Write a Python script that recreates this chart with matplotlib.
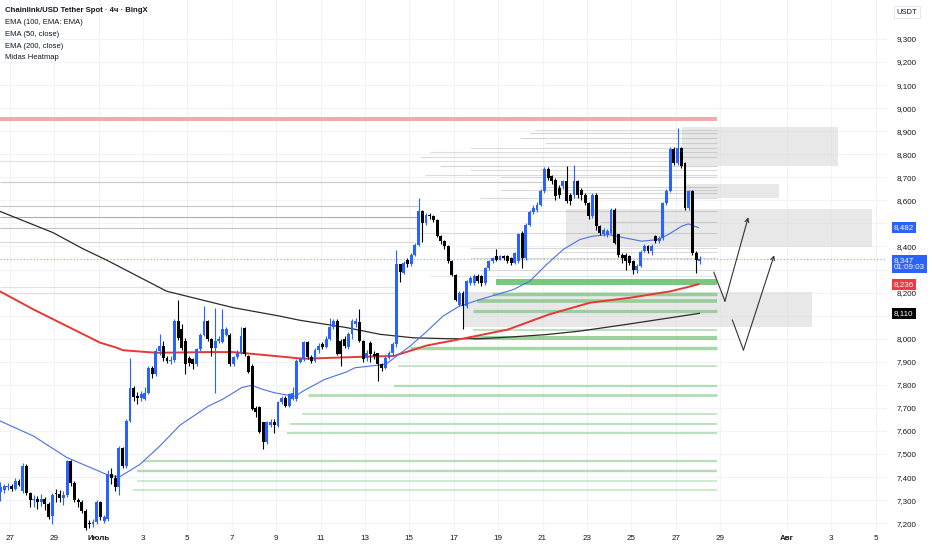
import matplotlib
matplotlib.use("Agg")
import matplotlib.pyplot as plt
from matplotlib.patches import Rectangle
from matplotlib import font_manager

# ------------------------------------------------------------------ data
# 4h candles (index 0 = first visible candle, Jun 26)
opens = [7335, 7345, 7358, 7362, 7350, 7384, 7340, 7450, 7330, 7300,
         7306, 7292, 7304, 7283, 7230, 7332, 7326, 7310, 7322, 7470,
         7376, 7300, 7290, 7254, 7200, 7196, 7203, 7290, 7210, 7218,
         7413, 7395, 7356, 7524, 7449, 7643, 7788, 7750, 7745, 7740,
         7766, 7875, 7846, 7946, 7968, 7918, 7903, 7907, 8076, 8040,
         7990, 7918, 7910, 7889, 7954, 8018, 8076, 7997, 7960, 7990,
         7985, 8018, 8018, 7889, 7920, 7940, 8047, 7925, 7882, 7700,
         7702, 7637, 7550, 7625, 7640, 7620, 7724, 7745, 7710, 7740,
         7737, 7900, 7912, 7984, 7920, 7905, 7950, 7975, 7965, 8000,
         8050, 8076, 7990, 8000, 7965, 8020, 8065, 8071, 7990, 7918,
         7980, 7935, 7936, 7889, 7875, 7918, 7939, 7975, 8322, 8286,
         8343, 8322, 8365, 8408, 8552, 8502, 8538, 8531, 8516, 8444,
         8423, 8401, 8336, 8278, 8148, 8199, 8141, 8242, 8242, 8271,
         8271, 8242, 8307, 8336, 8357, 8343, 8360, 8357, 8350, 8329,
         8336, 8459, 8350, 8495, 8550, 8560, 8581, 8639, 8736, 8704,
         8690, 8654, 8661, 8682, 8625, 8625, 8682, 8646, 8625, 8589,
         8531, 8625, 8488, 8452, 8452, 8459, 8560, 8452, 8365, 8365,
         8358, 8336, 8300, 8314, 8380, 8401, 8380, 8444, 8423, 8437,
         8590, 8640, 8822, 8762, 8827, 8762, 8567, 8639, 8372, 8336]
highs = [7380, 7372, 7375, 7370, 7395, 7392, 7462, 7458, 7335, 7320,
         7318, 7325, 7312, 7290, 7330, 7350, 7345, 7340, 7475, 7472,
         7385, 7310, 7300, 7260, 7215, 7220, 7300, 7295, 7235, 7430,
         7440, 7410, 7535, 7530, 7650, 7915, 7795, 7770, 7775, 7790,
         7880, 7880, 7960, 8020, 7990, 7925, 7925, 8085, 8170, 8065,
         8004, 7925, 7918, 7960, 8025, 8141, 8080, 8005, 8134, 8010,
         8130, 8050, 8025, 7925, 7950, 8050, 8050, 7930, 7890, 7710,
         7710, 7640, 7645, 7650, 7650, 7730, 7752, 7750, 7765, 7790,
         7910, 7920, 7990, 7990, 7930, 7960, 7980, 7985, 8010, 8090,
         8085, 8085, 8000, 8010, 8030, 8085, 8090, 8127, 7995, 7950,
         7990, 7945, 7940, 7895, 7925, 7945, 7985, 8385, 8325, 8335,
         8350, 8370, 8415, 8610, 8558, 8545, 8545, 8535, 8520, 8450,
         8430, 8405, 8340, 8280, 8205, 8205, 8255, 8270, 8280, 8280,
         8275, 8310, 8340, 8355, 8387, 8365, 8365, 8362, 8355, 8378,
         8458, 8465, 8500, 8560, 8580, 8595, 8650, 8745, 8745, 8710,
         8695, 8665, 8690, 8748, 8630, 8755, 8690, 8655, 8630, 8595,
         8630, 8630, 8495, 8480, 8475, 8565, 8565, 8455, 8370, 8372,
         8365, 8340, 8325, 8385, 8410, 8405, 8410, 8450, 8445, 8595,
         8650, 8830, 8830, 8913, 8832, 8765, 8645, 8645, 8380, 8360]
lows = [7295, 7330, 7345, 7340, 7345, 7360, 7330, 7320, 7270, 7270,
        7262, 7275, 7258, 7220, 7195, 7290, 7290, 7280, 7315, 7360,
        7290, 7270, 7245, 7170, 7180, 7185, 7195, 7215, 7200, 7210,
        7370, 7340, 7320, 7440, 7440, 7640, 7730, 7715, 7730, 7735,
        7760, 7830, 7840, 7930, 7905, 7895, 7890, 7900, 7995, 7950,
        7846, 7880, 7870, 7880, 7945, 8010, 7990, 7925, 7766, 7980,
        7980, 8010, 7880, 7880, 7910, 7935, 7925, 7850, 7690, 7660,
        7590, 7522, 7545, 7615, 7590, 7615, 7718, 7705, 7705, 7735,
        7730, 7895, 7905, 7910, 7895, 7900, 7940, 7955, 7960, 7995,
        8040, 7930, 7880, 7960, 7955, 8000, 8050, 7985, 7900, 7905,
        7900, 7910, 7815, 7860, 7870, 7910, 7930, 7965, 8248, 8280,
        8310, 8315, 8360, 8400, 8420, 8495, 8520, 8505, 8440, 8410,
        8390, 8330, 8270, 8165, 8140, 8040, 8135, 8235, 8235, 8240,
        8230, 8235, 8300, 8330, 8335, 8340, 8340, 8330, 8320, 8325,
        8330, 8307, 8340, 8490, 8540, 8550, 8575, 8630, 8690, 8670,
        8600, 8610, 8650, 8590, 8580, 8610, 8610, 8600, 8580, 8520,
        8525, 8470, 8450, 8445, 8440, 8455, 8410, 8355, 8330, 8300,
        8320, 8280, 8286, 8310, 8375, 8370, 8365, 8415, 8415, 8430,
        8580, 8635, 8755, 8755, 8740, 8560, 8560, 8365, 8286, 8325]
closes = [7356, 7360, 7362, 7350, 7384, 7365, 7450, 7330, 7300, 7306,
          7292, 7304, 7283, 7228, 7320, 7326, 7310, 7322, 7470, 7376,
          7300, 7290, 7254, 7180, 7196, 7203, 7290, 7225, 7225, 7413,
          7395, 7356, 7524, 7449, 7643, 7788, 7748, 7745, 7760, 7766,
          7875, 7846, 7946, 7968, 7918, 7903, 7907, 8076, 8004, 7961,
          7889, 7895, 7889, 7954, 8018, 8076, 7997, 7960, 7990, 8000,
          8040, 8040, 7889, 7920, 7940, 8010, 7932, 7856, 7694, 7680,
          7594, 7550, 7637, 7637, 7625, 7724, 7745, 7710, 7760, 7765,
          7903, 7912, 7984, 7920, 7905, 7950, 7970, 7965, 8000, 8050,
          8076, 7935, 7935, 7970, 8020, 8076, 8075, 7990, 7910, 7939,
          7932, 7925, 7889, 7875, 7918, 7939, 7975, 8322, 8290, 8329,
          8322, 8365, 8408, 8552, 8502, 8538, 8531, 8516, 8444, 8423,
          8401, 8336, 8278, 8170, 8199, 8141, 8249, 8264, 8271, 8250,
          8242, 8307, 8336, 8350, 8343, 8360, 8350, 8336, 8329, 8372,
          8452, 8350, 8495, 8550, 8565, 8581, 8639, 8736, 8697, 8682,
          8617, 8625, 8682, 8596, 8596, 8682, 8625, 8625, 8589, 8531,
          8625, 8488, 8459, 8473, 8465, 8560, 8416, 8365, 8351, 8336,
          8329, 8300, 8314, 8378, 8401, 8380, 8401, 8423, 8437, 8590,
          8640, 8822, 8762, 8827, 8748, 8567, 8639, 8372, 8343, 8347]

# EMA curves (candle index, price)
ema50_x = [-0.1, 8.9, 17.9, 29.6, 32.3, 37.7, 43.1, 48.5, 56.2, 60, 65.2, 67.9,
           70.9, 74.2, 79.6, 82, 87.7, 93.4, 95.8, 104.1, 107.1, 110.7, 115.1,
           119.6, 123.9, 129.6, 138.6, 143.1, 147.6, 152.1, 156.6, 159.8, 164.3,
           168.8, 173.3, 177.8, 180.5, 184.1, 185.9, 188.6]
ema50_y = [7643, 7578, 7485, 7405, 7402, 7455, 7535, 7625, 7708, 7737, 7788, 7798,
           7780, 7765, 7750, 7775, 7824, 7855, 7874, 7889, 7925, 7968, 8030,
           8098, 8140, 8170, 8213, 8250, 8322, 8387, 8430, 8444, 8452,
           8437, 8423, 8430, 8452, 8488, 8498, 8482]
ema100_x = [-0.1, 8.9, 17.9, 26.9, 31.4, 33.1, 42.2, 56.1, 62.8, 74.2, 81.9, 98.5,
            106.3, 115.1, 126.1, 137.2, 148.2, 159.3, 170.3, 181.2, 185, 188.6]
ema100_y = [8205, 8127, 8055, 7983, 7961, 7950, 7939, 7942, 7942, 7925, 7913, 7922,
            7925, 7970, 8004, 8040, 8105, 8156, 8178, 8206, 8221, 8236]
ema200_x = [-0.1, 14.2, 22.3, 28.8, 44.9, 62.8, 75.5, 80.9, 93.6, 102.6, 111.5,
            120.7, 129.6, 138.5, 147.6, 156.6, 169.2, 188.9]
ema200_y = [8552, 8460, 8390, 8340, 8206, 8135, 8098, 8080, 8048, 8019, 8004,
            8000, 8000, 8008, 8018, 8033, 8062, 8110]

# Midas heatmap: support (green) levels
green_price = [8248, 8195, 8162, 8122, 8038, 8002, 7961, 7880, 7795, 7754,
               7672, 7629, 7590, 7470, 7425, 7385, 7345]
green_start = [133.9, 132.8, 128.9, 127.7, 127.7, 127.7, 110.7, 107.4, 106.3, 83.1,
               81.5, 78.2, 77.4, 38.5, 36.9, 36.9, 35.8]
green_strength = [1.0, 0.45, 0.5, 0.4, 0.15, 0.6, 0.45, 0.1, 0.2, 0.3,
                  0.1, 0.15, 0.15, 0.2, 0.25, 0.05, 0.05]
heat_end = 193.6

# Midas heatmap: grey volume levels (price, start, end, strength)
grey_price = [8772, 8678, 8576, 8527, 8479, 8421, 8225, 8200,
              8905, 8893, 8871, 8850, 8828, 8811, 8789, 8750, 8733, 8711, 8700,
              8659, 8645, 8633, 8612, 8555, 8508, 8460, 8395, 8374, 8352, 8300, 8274]
grey_start = [-0.1, -0.1, -0.1, -0.1, -0.1, -0.1, -0.1, -0.1,
              144.5, 143.1, 140.4, 147.2, 126.9, 116.1, 113.4, 118.8, 126.9, 114.7, 135,
              145.8, 135, 151.2, 129.6, 118.8, 162, 113.4, 126.9, 151.2, 126.9, 129.6, 116.1]
grey_end = [182.8, 146.9, 112.8, 112.8, 112.8, 111.8, 106.9, 106.9,
            193.6, 193.6, 193.6, 193.6, 193.6, 193.6, 193.6, 193.6, 193.6, 193.6, 193.6,
            193.6, 193.6, 193.6, 193.6, 193.6, 193.6, 193.6, 193.6, 193.6, 193.6, 193.6, 193.6]
grey_strength = [0.25, 0.45, 0.5, 0.7, 0.5, 0.3, 0.25, 0.2,
                 0.25, 0.35, 0.35, 0.3, 0.3, 0.3, 0.3, 0.35, 0.3, 0.3, 0.25,
                 0.35, 0.3, 0.35, 0.3, 0.3, 0.3, 0.3, 0.3, 0.3, 0.3, 0.25, 0.2]

# grey zones (x0, x1, price low, price high)
zone_x0 = [184.1, 185.3, 152.8, 125.0]
zone_x1 = [226.4, 210.4, 235.5, 219.3]
zone_lo = [8747, 8610, 8398, 8052]
zone_hi = [8918, 8672, 8564, 8202]

# resistance band
resist_lo, resist_hi = 8945, 8962

# hand-drawn projection arrows
arrow1_x = [192.8, 195.8, 202.1]
arrow1_y = [8288, 8163, 8527]
arrow2_x = [197.8, 200.8, 209.1]
arrow2_y = [8081, 7951, 8362]

last_price = 8347
countdown = "01:09:03"
ema50_last, ema100_last, ema200_last = 8482, 8236, 8110

date_days = [0, 2, 4, 6, 8, 10, 12, 14, 16, 18, 20, 22, 24, 26, 28, 30, 32, 35, 37, 39]
date_labels = ["27", "29", "Июль", "3", "5", "7", "9", "11", "13", "15", "17", "19",
               "21", "23", "25", "27", "29", "Авг", "3", "5"]
price_ticks = list(range(7200, 9301, 100))
hidden_ticks = [8500, 8300, 8100]   # covered by the price badges

# ------------------------------------------------------------------ figure
W, H = 932, 550
available = {f.name for f in font_manager.fontManager.ttflist}
fam = [f for f in ['Liberation Sans Narrow', 'Liberation Sans', 'DejaVu Sans']
       if f in available]
narrow = 'Liberation Sans Narrow' in available
plt.rcParams['font.family'] = fam
fs = 7.0 if narrow else 5.8

fig = plt.figure(figsize=(W / 100, H / 100), dpi=100)
fig.patch.set_facecolor('white')
ax = fig.add_axes([0, 19 / H, 887 / W, 531 / H])
ax.set_facecolor('white')
ax.set_xlim(-0.135, 239.6)
ax.set_ylim(7166, 9469)
for s in ax.spines.values():
    s.set_visible(False)

PX_PRICE = (9469 - 7166) / 531.0   # price units per pixel

# grid + ticks
tick_pos = [2.5 + 6 * d for d in date_days]
ax.set_xticks(tick_pos)
ax.set_xticklabels(date_labels)
ax.set_yticks(price_ticks)
ax.set_yticklabels(["" if v in hidden_ticks else f"{v:,}" for v in price_ticks])
ax.yaxis.tick_right()
ax.tick_params(axis='both', length=0, labelsize=fs, labelcolor='#131722')
ax.tick_params(axis='y', pad=7)
ax.tick_params(axis='x', pad=3)
for lab in ax.get_xticklabels():
    if lab.get_text() in ("Июль", "Авг"):
        lab.set_fontweight('bold')
ax.grid(True, color='#f0f3fa', lw=0.8, zorder=0)
ax.set_axisbelow(True)

# grey zones
for x0, x1, lo, hi in zip(zone_x0, zone_x1, zone_lo, zone_hi):
    ax.add_patch(Rectangle((x0, lo), x1 - x0, hi - lo, facecolor='#d6d6d6',
                           alpha=0.55, edgecolor='none', zorder=1))

# grey heat lines
for p, x0, x1, s in zip(grey_price, grey_start, grey_end, grey_strength):
    ax.hlines(p, x0, x1, color='#8a8a8a', alpha=s, lw=0.8, zorder=2)

# green support lines
for p, x0, s in zip(green_price, green_start, green_strength):
    thick_px = 1.3 + 4.7 * s
    ax.hlines(p, x0, heat_end, color='#5cb860', alpha=0.35 + 0.45 * s,
              lw=thick_px * 0.72, zorder=2)

# resistance band
ax.add_patch(Rectangle((-0.135, resist_lo), heat_end + 0.135, resist_hi - resist_lo,
                       facecolor='#f5a0a3', edgecolor='none', alpha=0.9, zorder=2))

# current price dotted line
ax.axhline(last_price, color='#2962ff', lw=0.8, alpha=0.55,
           linestyle=(0, (1, 2)), zorder=2)

# EMAs
ax.plot(ema200_x, ema200_y, color='#2b2b2b', lw=0.9, zorder=3)
ax.plot(ema100_x, ema100_y, color='#e53935', lw=1.4, zorder=3)
ax.plot(ema50_x, ema50_y, color='#4a70e8', lw=0.8, zorder=3)

# candles
idx = list(range(len(closes)))
up = '#2962ff'
dn = '#000000'
cols = [up if c >= o else dn for o, c in zip(opens, closes)]
ax.vlines(idx, lows, highs, colors=cols, lw=0.8, zorder=4)
bottoms = [min(o, c) for o, c in zip(opens, closes)]
heights = [max(abs(c - o), 1.2 * PX_PRICE) for o, c in zip(opens, closes)]
ax.bar(idx, heights, bottom=bottoms, width=0.78, color=cols, edgecolor='none',
       zorder=5)

# projection arrows
for xs, ys in ((arrow1_x, arrow1_y), (arrow2_x, arrow2_y)):
    ax.plot(xs[:-1], ys[:-1], color='#333333', lw=0.8, zorder=6)
    ax.annotate('', xy=(xs[-1], ys[-1]), xytext=(xs[-2], ys[-2]),
                arrowprops=dict(arrowstyle='->', color='#333333', lw=0.8,
                                mutation_scale=7, shrinkA=0, shrinkB=0),
                zorder=6)

# ------------------------------------------------------------------ texts
def fx(px):
    return px / W

def fy(py):
    return 1 - py / H

def price_to_py(p):
    return (9469 - p) / PX_PRICE

tfs = 7.6 if narrow else 5.6
lfs = 7.2 if narrow else 5.5
fig.text(fx(5), fy(11), "Chainlink/USD Tether Spot · 4ч · BingX", fontsize=tfs,
         fontweight='bold', color='#131722', va='center', ha='left')
for k, t in enumerate(["EMA (100, EMA: EMA)", "EMA (50, close)",
                       "EMA (200, close)", "Midas Heatmap"]):
    fig.text(fx(5), fy(23 + 11.5 * k), t, fontsize=lfs, color='#131722',
             va='center', ha='left')

fig.text(fx(907), fy(12), "USDT", fontsize=fs * 0.95, color='#131722', va='center',
         ha='center', bbox=dict(boxstyle='square,pad=0.35', facecolor='white',
                                edgecolor='#e0e3eb', lw=0.6))

def axis_badge(price, text, color, dy=0.0):
    fig.text(fx(894), fy(price_to_py(price) + dy), text, fontsize=fs, color='white',
             va='center', ha='left', linespacing=1.05,
             bbox=dict(boxstyle='square,pad=0.25', facecolor=color,
                       edgecolor='none'))

axis_badge(ema50_last, f"{ema50_last:,}", '#2962ff')
axis_badge(last_price, f"{last_price:,}\n{countdown}", '#2962ff', dy=5)
axis_badge(ema100_last, f"{ema100_last:,}", '#f23645')
axis_badge(ema200_last, f"{ema200_last:,}", '#000000')

fig.savefig("out.png", dpi=100, facecolor='white')
